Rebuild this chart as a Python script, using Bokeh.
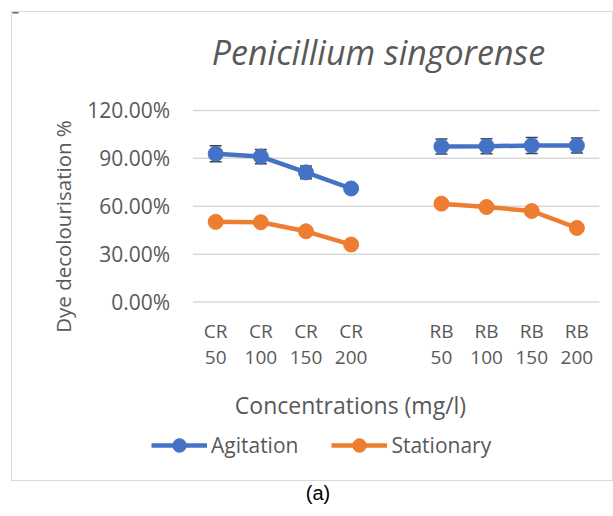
import math
import numpy as np
from bokeh.plotting import figure
from bokeh.models import (ColumnDataSource, FixedTicker, Whisker, TeeHead, Legend,
                          LegendItem, Label, Div, Spacer)
from bokeh.layouts import column, row
from bokeh.embed import file_html
from bokeh.resources import INLINE

# ---- data ----
categories = ["CR\n50", "CR\n100", "CR\n150", "CR\n200", "",
              "RB\n50", "RB\n100", "RB\n150", "RB\n200"]
agitation = [92.8, 91.1, 81.2, 71.1, np.nan, 97.4, 97.6, 98.0, 98.0]
agitation_err = [5.0, 4.5, 4.0, 2.0, np.nan, 4.7, 4.7, 5.0, 4.7]
stationary = [50.2, 50.0, 44.3, 36.0, np.nan, 61.6, 59.5, 57.0, 46.4]
y_ticks = [0, 30, 60, 90, 120]
y_tick_labels = ["0.00%", "30.00%", "60.00%", "90.00%", "120.00%"]

title_text = "Penicillium singorense"
y_title = "Dye decolourisation %"
x_title = "Concentrations (mg/l)"
series_names = ["Agitation", "Stationary"]
caption = "(a)"

BLUE = "#4472C4"
ORANGE = "#ED7D31"
GREY = "#595959"
FONT = "Open Sans"

n = len(categories)
xs = list(range(n))
src = ColumnDataSource(data=dict(
    x=xs, agit=agitation, stat=stationary,
    up=[a + e for a, e in zip(agitation, agitation_err)],
    lo=[a - e for a, e in zip(agitation, agitation_err)],
))

# Layout geometry: the plot frame fills the whole chart box; the axes are
# pinned inside it so that titles and legend can sit around the plot area.
W, H = 602, 470
CAT_PX = 45.0            # pixels per category
PLOT_LEFT_PX = 180       # left edge of plot area inside the canvas
PLOT_RIGHT_PAD = 15
Y_PX = 1.59              # pixels per percentage point
PLOT_TOP_PX = 97.5
PLOT_BOTTOM_PX = 288.3
cw, ch = W - 2, H - 2
x_start = -0.5 - PLOT_LEFT_PX / CAT_PX
x_end = (n - 0.5) + PLOT_RIGHT_PAD / CAT_PX
y_end = y_ticks[-1] + PLOT_TOP_PX / Y_PX
y_start = -(ch - PLOT_BOTTOM_PX) / Y_PX

p = figure(width=W, height=H, output_backend="svg", toolbar_location=None,
           x_range=(x_start, x_end), y_range=(y_start, y_end),
           min_border=0, min_border_left=0, min_border_right=0,
           min_border_top=0, min_border_bottom=0)
p.outline_line_color = None
p.styles = {"border": "1px solid #D9D9D9", "box-sizing": "border-box"}
p.xgrid.visible = False
p.ygrid.visible = False

# horizontal gridlines across the plot area only
p.segment(x0=-0.5, x1=n - 0.5, y0=y_ticks, y1=y_ticks,
          line_color="#D9D9D9", line_width=1.5, level="underlay")

# y axis pinned at the left edge of the plot area
p.yaxis.fixed_location = -0.5
p.yaxis.ticker = FixedTicker(ticks=y_ticks)
p.yaxis.major_label_overrides = {t: l for t, l in zip(y_ticks, y_tick_labels)}
p.yaxis.axis_line_color = None
p.yaxis.major_tick_line_color = None
p.yaxis.minor_tick_line_color = None
p.yaxis.major_label_standoff = 17
p.yaxis.major_label_text_font = FONT
p.yaxis.major_label_text_font_size = "21px"
p.yaxis.major_label_text_color = GREY

# x axis pinned at 0 %
p.xaxis.fixed_location = 0
p.xaxis.ticker = FixedTicker(ticks=[x for x, c in zip(xs, categories) if c])
p.xaxis.major_label_overrides = {x: c for x, c in zip(xs, categories) if c}
p.xaxis.axis_line_color = None
p.xaxis.major_tick_line_color = None
p.xaxis.minor_tick_line_color = None
p.xaxis.major_label_standoff = 10
p.xaxis.major_label_text_font = FONT
p.xaxis.major_label_text_font_size = "19px"
p.xaxis.major_label_text_line_height = 0.99
p.xaxis.major_label_text_color = GREY

# series
la = p.line("x", "agit", source=src, line_color=BLUE, line_width=4.5)
wa = Whisker(source=src, base="x", upper="up", lower="lo", line_color="#404040",
             line_width=1.5,
             upper_head=TeeHead(size=12, line_color="#404040", line_width=1.5),
             lower_head=TeeHead(size=12, line_color="#404040", line_width=1.5))
p.add_layout(wa)
sa = p.scatter("x", "agit", source=src, size=15, fill_color=BLUE, line_color=BLUE)
ls = p.line("x", "stat", source=src, line_color=ORANGE, line_width=4.5)
ss = p.scatter("x", "stat", source=src, size=15, fill_color=ORANGE, line_color=ORANGE)

legend = Legend(items=[LegendItem(label=series_names[0], renderers=[la, sa]),
                       LegendItem(label=series_names[1], renderers=[ls, ss])],
                orientation="horizontal", location=(139, 20),
                glyph_width=56, glyph_height=34, label_standoff=4, spacing=33,
                padding=0, margin=0, border_line_color=None,
                background_fill_alpha=0,
                label_text_font=FONT, label_text_font_size="21px",
                label_text_color=GREY)
p.add_layout(legend, "center")

# texts (screen units, from the canvas bottom-left)
p.add_layout(Label(x=366, y=431, x_units="screen", y_units="screen",
                   text=title_text, text_font=FONT, text_font_size="34px",
                   text_font_style="italic", text_color=GREY,
                   text_align="center", text_baseline="middle"))
p.add_layout(Label(x=338, y=78, x_units="screen", y_units="screen",
                   text=x_title, text_font=FONT, text_font_size="23px",
                   text_color=GREY, text_align="center", text_baseline="middle"))
p.add_layout(Label(x=50, y=256, x_units="screen", y_units="screen",
                   angle=math.pi / 2,
                   text=y_title, text_font=FONT, text_font_size="20.5px",
                   text_color=GREY, text_align="center", text_baseline="middle"))

cap = Div(text=caption, width=W, height=22,
          styles={"font-family": "Liberation Sans, Arial", "font-size": "20px",
                  "color": "#000000", "text-align": "center",
                  "padding-left": "24px", "line-height": "14px"})

layout = column(Spacer(height=11),
                row(Spacer(width=11), p, spacing=0),
                cap, spacing=0)
open("out.html", "w").write(file_html(layout, INLINE))
